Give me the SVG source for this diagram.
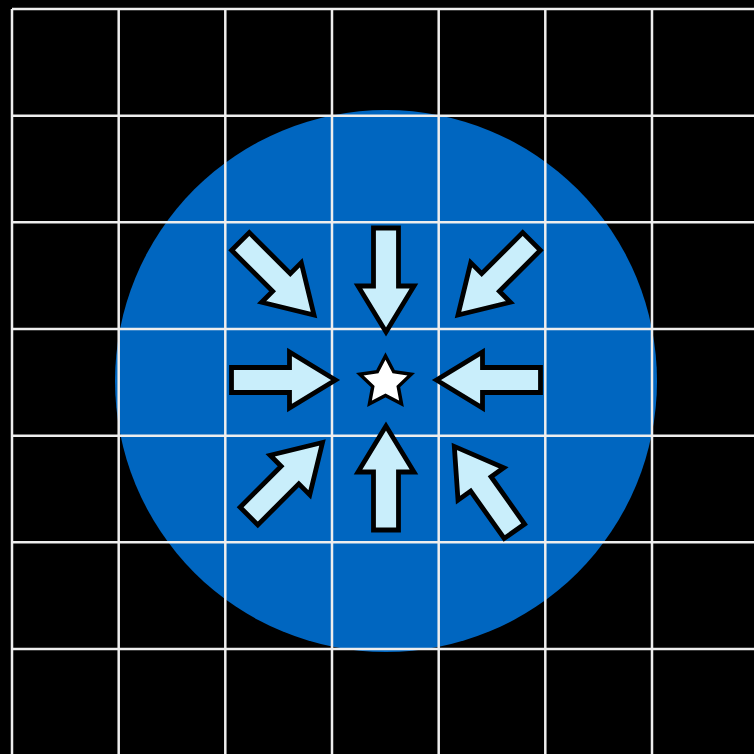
<svg xmlns="http://www.w3.org/2000/svg" width="754" height="754" viewBox="0 0 754 754">
  <style>
    .grid line { stroke: #eeeeee; stroke-width: 2.5; }
    .arrow { fill: #c9eefb; stroke: #000; stroke-width: 4.8; stroke-linejoin: miter; stroke-miterlimit: 10; }
    .star { fill: #ffffff; stroke: #000; stroke-width: 3.5; stroke-linejoin: miter; }
  </style>
  <defs>
    <path id="arr" d="M0,0 L-46,-28 L-46,-12.5 L-104,-12.5 L-104,12.5 L-46,12.5 L-46,28 Z"/>
  </defs>
  <rect x="0" y="0" width="754" height="754" fill="#000"/>
  <circle id="field" cx="386" cy="381" r="271" fill="#0066c0"/>
  <g class="grid" id="grid">
    <line x1="12" y1="9" x2="12" y2="754"/>
    <line x1="118.7" y1="9" x2="118.7" y2="754"/>
    <line x1="225.3" y1="9" x2="225.3" y2="754"/>
    <line x1="332" y1="9" x2="332" y2="754"/>
    <line x1="438.7" y1="9" x2="438.7" y2="754"/>
    <line x1="545.3" y1="9" x2="545.3" y2="754"/>
    <line x1="652" y1="9" x2="652" y2="754"/>
    <line x1="12" y1="9" x2="754" y2="9"/>
    <line x1="12" y1="115.7" x2="754" y2="115.7"/>
    <line x1="12" y1="222.3" x2="754" y2="222.3"/>
    <line x1="12" y1="329" x2="754" y2="329"/>
    <line x1="12" y1="435.7" x2="754" y2="435.7"/>
    <line x1="12" y1="542.3" x2="754" y2="542.3"/>
    <line x1="12" y1="649" x2="754" y2="649"/>
  </g>
  <g id="connectors">
    <use id="arrow-top" href="#arr" class="arrow" transform="translate(386,332) rotate(90)"/>
    <use id="arrow-bottom" href="#arr" class="arrow" transform="translate(386,426) rotate(-90)"/>
    <use id="arrow-left" href="#arr" class="arrow" transform="translate(335.5,380) rotate(0)"/>
    <use id="arrow-right" href="#arr" class="arrow" transform="translate(436.5,380) rotate(180)"/>
    <use id="arrow-top-left" href="#arr" class="arrow" transform="translate(314,315) rotate(45)"/>
    <use id="arrow-top-right" href="#arr" class="arrow" transform="translate(458,315) rotate(135)"/>
    <use id="arrow-bottom-left" href="#arr" class="arrow" transform="translate(322.5,442.5) rotate(-45)"/>
    <use id="arrow-bottom-right" href="#arr" class="arrow" transform="translate(454.3,446.4) rotate(-125.3)"/>
  </g>
  <g id="star">
    <polygon class="star" points="385.5,356 393.7,371.7 411.2,374.3 398.3,386.5 401.5,403.8 385.5,395.5 369.5,403.8 372.7,386.5 359.8,374.3 377.3,371.7"/>
  </g>
</svg>
